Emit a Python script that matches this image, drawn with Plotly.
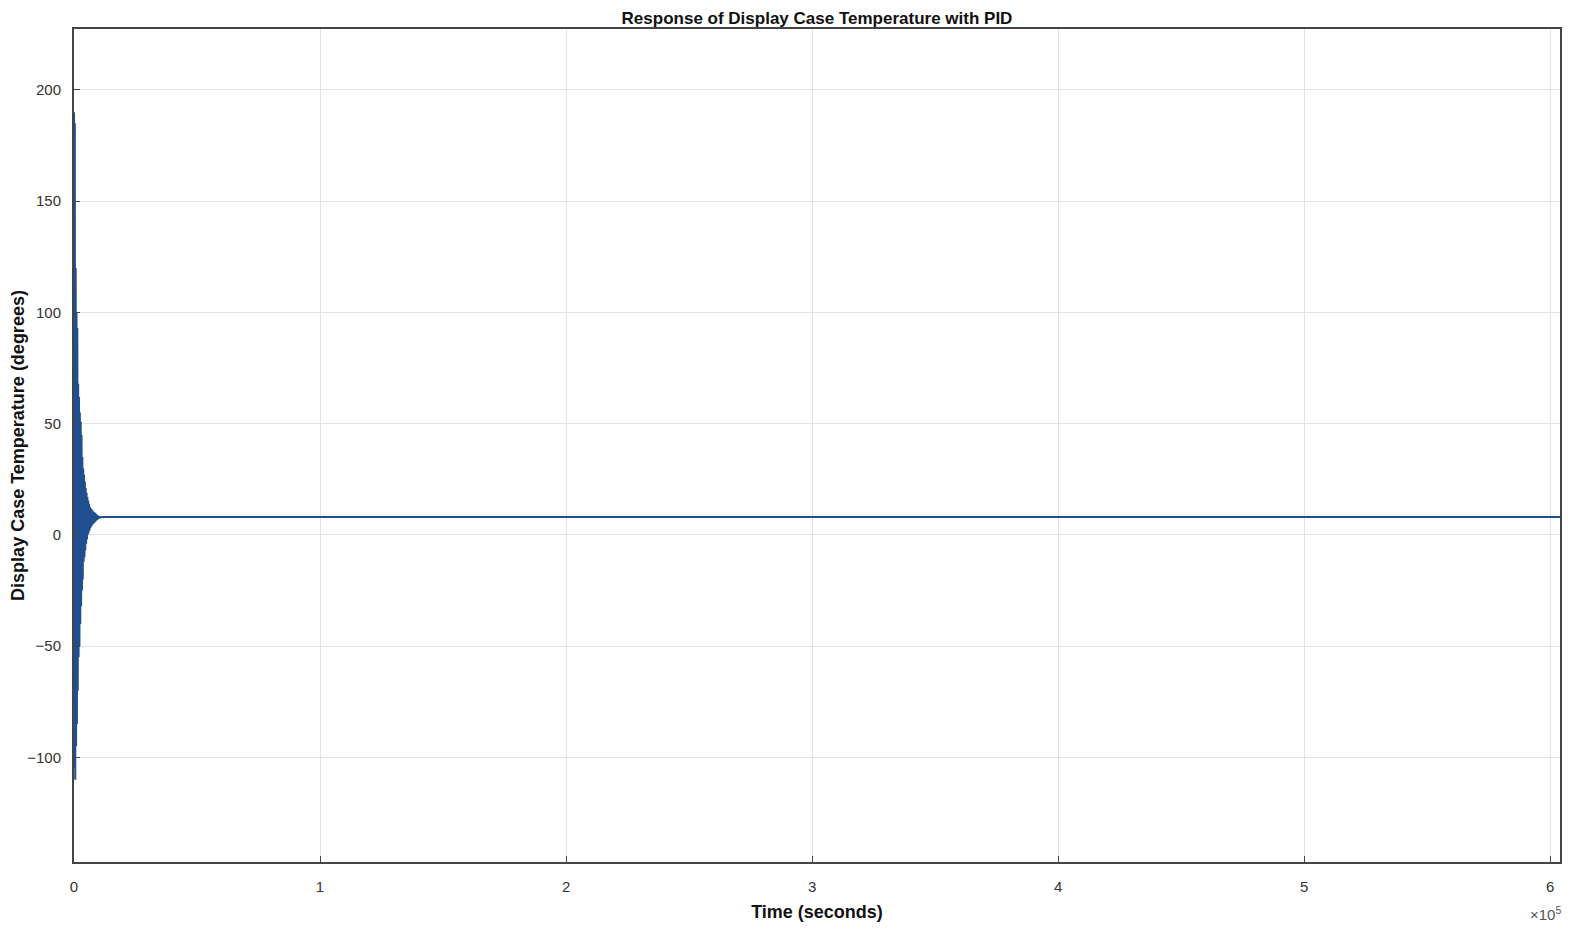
import plotly.graph_objects as go

# time (s) and display case temperature (deg)
t_response = [0, 170, 340, 510, 680, 850, 1020, 1190, 1360, 1530,
              1700, 1870, 2040, 2210, 2380, 2550, 2720, 2890, 3060, 3230,
              3400, 3570, 3740, 3910, 4080, 4250, 4420, 4590, 4760, 4930,
              5100, 5270, 5440, 5610, 5780, 5950, 6120, 6290, 6460, 6630,
              6800, 6970, 7140, 7310, 7480, 7650, 7820, 7990, 8160, 8330,
              8500, 8670, 8840, 9010, 9180, 9350, 9520, 9690, 9860, 10030,
              10200, 10370, 10540, 10710, 12000, 604000]
temp_response = [190, -105, 185, -110, 120, -95, 100, -85, 93, -70,
                 68, -55, 62, -50, 55, -40, 51, -32, 45, -25,
                 35, -20, 30, -12, 27, -10, 24, -7, 21, -4,
                 19, -2, 17, 0, 15.5, 1, 14, 2, 12.5, 3,
                 12, 3.8, 11.5, 4.3, 11, 4.8, 10.5, 5.2, 10.2, 5.6,
                 10, 6.0, 9.6, 6.4, 9.2, 6.8, 8.9, 7.1, 8.6, 7.4,
                 8.4, 7.7, 8.2, 7.9, 8.1, 8.1]

x_ticks = [0, 100000, 200000, 300000, 400000, 500000, 600000]
x_tick_labels = ['0', '1', '2', '3', '4', '5', '6']
y_ticks = [-100, -50, 0, 50, 100, 150, 200]

FONT = 'Liberation Sans, Arial, sans-serif'

fig = go.Figure()
fig.add_trace(go.Scatter(x=t_response, y=temp_response,
                         mode='lines',
                         line=dict(color='#1f4f8e', width=2),
                         hoverinfo='skip'))

# the page body adds an 8px margin, so the figure is 16px smaller than the window
fig.update_layout(
    width=1554, height=916,
    paper_bgcolor='white', plot_bgcolor='white',
    margin=dict(l=66, r=2, t=21, b=62),
    showlegend=False,
    font=dict(family=FONT, color='#262626'),
    title=dict(text='<b>Response of Display Case Temperature with PID</b>',
               x=0.5, xanchor='center', xref='paper',
               y=1, yref='paper', yanchor='bottom', pad=dict(b=5),
               font=dict(size=17, color='#111111')),
)

fig.update_xaxes(range=[0, 604000], tickvals=x_ticks, ticktext=x_tick_labels,
                 automargin=False,
                 showgrid=True, gridcolor='#e3e3e3', gridwidth=1,
                 zeroline=False, showline=True, linecolor='#444444', linewidth=2,
                 mirror=True, ticks='inside', ticklen=6, tickcolor='#444444',
                 ticklabelstandoff=10,
                 tickfont=dict(size=15, color='#333333'),
                 title=dict(text='<b>Time (seconds)</b>', standoff=11,
                            font=dict(size=18, color='#111111')))
fig.update_yaxes(range=[-147, 227.4], tickvals=y_ticks,
                 automargin=False,
                 showgrid=True, gridcolor='#e3e3e3', gridwidth=1,
                 zeroline=False, showline=True, linecolor='#444444', linewidth=2,
                 mirror=True, ticks='inside', ticklen=6, tickcolor='#444444',
                 ticklabelstandoff=8,
                 tickfont=dict(size=15, color='#333333'),
                 title=dict(text='<b>Display Case Temperature (degrees)</b>', standoff=2,
                            font=dict(size=18, color='#111111')))

fig.add_annotation(text='×10<sup>5</sup>', xref='paper', yref='paper',
                   x=1.002, y=0, xanchor='right', yanchor='top', yshift=-40,
                   showarrow=False, font=dict(size=15, color='#555555'))

fig.write_html("out.html")
